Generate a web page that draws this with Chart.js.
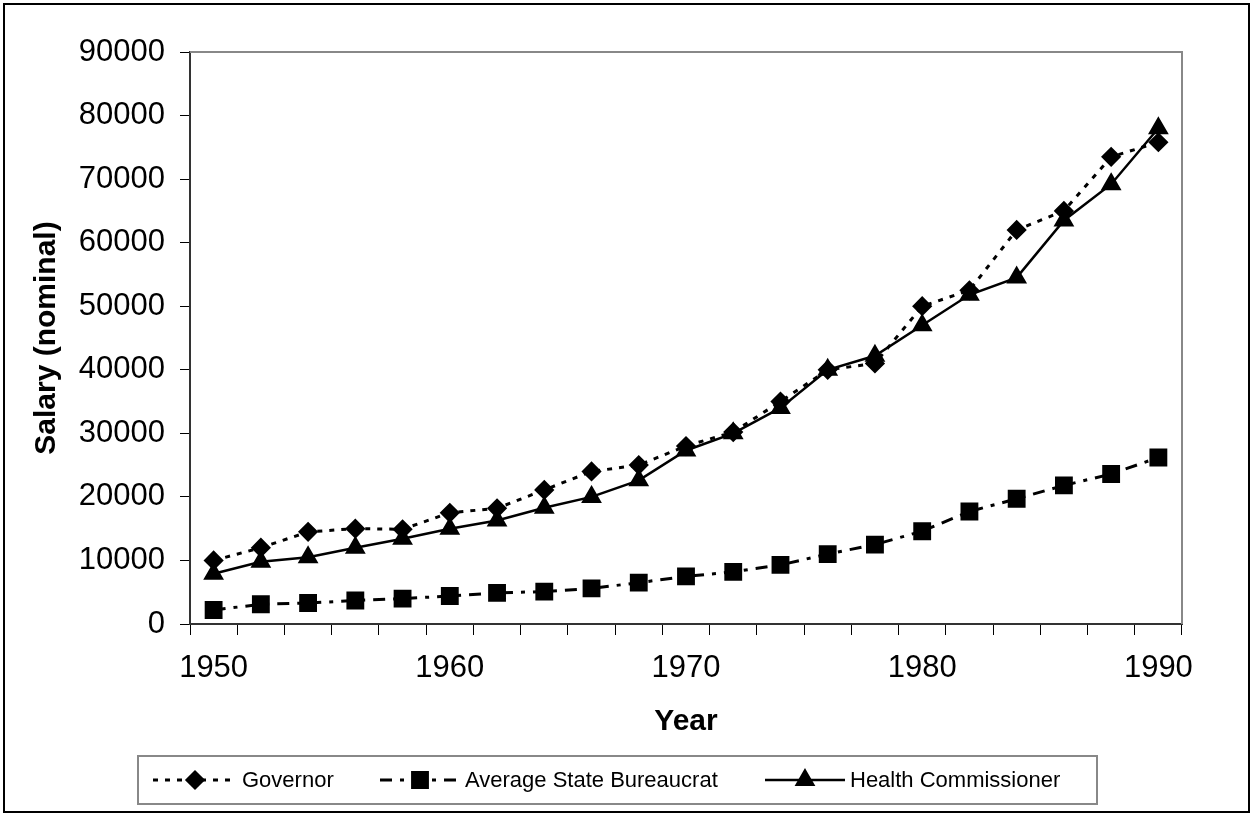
<!DOCTYPE html>
<html>
<head>
<meta charset="utf-8">
<script src="https://cdn.jsdelivr.net/npm/chart.js@4.4.0/dist/chart.umd.min.js"></script>
<style>
  html, body { margin: 0; padding: 0; background: #fff; }
</style>
</head>
<body>
<canvas id="salaryChart" width="1254" height="817"></canvas>
<script>
// data (one point every two years)
const years = ["1950", "1952", "1954", "1956", "1958", "1960", "1962", "1964", "1966", "1968",
  "1970", "1972", "1974", "1976", "1978", "1980", "1982", "1984", "1986", "1988", "1990"];
const labeledYears = ["1950", "1960", "1970", "1980", "1990"];
const governor = [10000, 12000, 14500, 15000, 14900, 17500, 18200, 21100, 24000, 25000,
  28000, 30200, 35000, 40000, 41000, 50000, 52500, 62000, 65000, 73500, 75800];
const bureaucrat = [2200, 3100, 3300, 3700, 4000, 4400, 4900, 5100, 5600, 6500,
  7500, 8200, 9300, 11000, 12500, 14600, 17700, 19700, 21800, 23600, 26200];
const healthCommissioner = [7900, 9800, 10500, 12000, 13400, 15000, 16300, 18300, 20000, 22600,
  27300, 30000, 34000, 40000, 42200, 47000, 51800, 54500, 63500, 69200, 78000];
const yMin = 0, yMax = 90000, yStep = 10000;

const FONT = "'Liberation Sans', Arial, sans-serif";

// white background, outer frame and the grey top/right edges of the plot
const framePlugin = {
  id: "frame",
  beforeDraw: (chart) => {
    const { ctx } = chart;
    ctx.save();
    ctx.fillStyle = "#fff";
    ctx.fillRect(0, 0, chart.width, chart.height);
    ctx.restore();
  },
  afterDraw: (chart) => {
    const { ctx, chartArea } = chart;
    ctx.save();
    ctx.strokeStyle = "#000";
    ctx.lineWidth = 2;
    ctx.strokeRect(4, 4, chart.width - 9, chart.height - 9);
    ctx.strokeStyle = "#888";
    ctx.lineWidth = 2;
    ctx.beginPath();
    ctx.moveTo(chartArea.left, chartArea.top);
    ctx.lineTo(chartArea.right, chartArea.top);
    ctx.lineTo(chartArea.right, chartArea.bottom);
    ctx.stroke();
    ctx.restore();
  },
};

// boxed legend under the axis, with line samples like the original
const lineLegend = {
  id: "lineLegend",
  afterDraw: (chart, args, opts) => {
    const { ctx } = chart;
    const box = opts.box;
    ctx.save();
    ctx.strokeStyle = "#888";
    ctx.lineWidth = 2;
    ctx.strokeRect(box.left, box.top, box.right - box.left, box.bottom - box.top);
    ctx.font = opts.font;
    ctx.textBaseline = "middle";
    const cy = (box.top + box.bottom) / 2;
    chart.data.datasets.forEach((ds, i) => {
      const x = opts.starts[i];
      const len = opts.samples[i];
      ctx.strokeStyle = ds.borderColor;
      ctx.lineWidth = ds.borderWidth;
      ctx.setLineDash(ds.borderDash || []);
      ctx.beginPath();
      ctx.moveTo(x, cy);
      ctx.lineTo(x + len, cy);
      ctx.stroke();
      ctx.setLineDash([]);
      ctx.fillStyle = ds.pointBackgroundColor;
      ctx.strokeStyle = ds.pointBorderColor;
      Chart.helpers.drawPoint(ctx, {
        pointStyle: ds.pointStyle,
        radius: ds.pointRadius,
        rotation: 0,
        borderWidth: 1,
      }, x + len / 2, cy);
      ctx.fillStyle = "#000";
      ctx.fillText(ds.label, x + len + 5, cy + 1);
    });
    ctx.restore();
  },
};

new Chart(document.getElementById("salaryChart"), {
  type: "line",
  data: {
    labels: years,
    datasets: [
      {
        label: "Governor",
        data: governor,
        borderColor: "#000",
        borderWidth: 3,
        borderDash: [5, 7],
        pointStyle: "rectRot",
        pointRadius: 8,
        pointBackgroundColor: "#000",
        pointBorderColor: "#000",
        tension: 0,
      },
      {
        label: "Average State Bureaucrat",
        data: bureaucrat,
        borderColor: "#000",
        borderWidth: 3,
        borderDash: [12, 8, 4, 8],
        pointStyle: "rect",
        pointRadius: 10.5,
        pointBackgroundColor: "#000",
        pointBorderColor: "#000",
        tension: 0,
      },
      {
        label: "Health Commissioner",
        data: healthCommissioner,
        borderColor: "#000",
        borderWidth: 2.5,
        pointStyle: "triangle",
        pointRadius: 9.5,
        pointBackgroundColor: "#000",
        pointBorderColor: "#000",
        tension: 0,
      },
    ],
  },
  options: {
    responsive: false,
    animation: false,
    devicePixelRatio: 1,
    layout: {
      autoPadding: false,
      padding: { left: 0, top: 52, right: 72, bottom: 63 },
    },
    plugins: {
      legend: { display: false },
      tooltip: { enabled: false },
      lineLegend: {
        box: { left: 138, top: 756, right: 1097, bottom: 804 },
        starts: [153, 380, 765],
        samples: [84, 80, 80],
        font: "22px " + FONT,
      },
    },
    scales: {
      x: {
        type: "category",
        offset: true,
        afterFit: (scale) => { scale.height = 130; },
        grid: {
          offset: true,
          drawOnChartArea: false,
          drawTicks: true,
          tickLength: 11,
          color: "#000",
          lineWidth: 1,
        },
        border: { display: true, color: "#333", width: 2 },
        ticks: {
          autoSkip: false,
          maxRotation: 0,
          padding: 15,
          color: "#000",
          font: { family: FONT, size: 31 },
          callback: (value, index) => (labeledYears.includes(years[index]) ? years[index] : ""),
        },
        title: {
          display: true,
          text: "Year",
          color: "#000",
          font: { family: FONT, size: 30, weight: "bold", lineHeight: 1.2 },
          padding: { top: 0, bottom: 14 },
        },
      },
      y: {
        min: yMin,
        max: yMax,
        afterFit: (scale) => { scale.width = 190; },
        grid: {
          drawOnChartArea: false,
          drawTicks: true,
          tickLength: 10,
          color: "#000",
          lineWidth: 1,
        },
        border: { display: true, color: "#333", width: 2 },
        ticks: {
          stepSize: yStep,
          padding: 15,
          color: "#000",
          font: { family: FONT, size: 31 },
          callback: (value) => String(value),
        },
        title: {
          display: true,
          text: "Salary (nominal)",
          color: "#000",
          font: { family: FONT, size: 30, weight: "bold", lineHeight: 1.2 },
          padding: { top: 29, bottom: 0 },
        },
      },
    },
  },
  plugins: [framePlugin, lineLegend],
});
</script>
</body>
</html>
